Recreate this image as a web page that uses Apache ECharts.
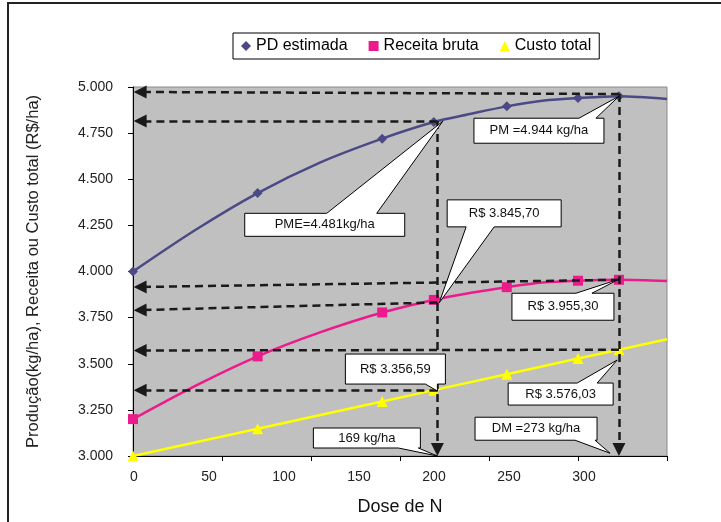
<!DOCTYPE html>
<html><head><meta charset="utf-8">
<script src="https://cdn.jsdelivr.net/npm/echarts@6/dist/echarts.min.js"></script>
<style>html,body{margin:0;padding:0;background:#fff}#c{width:721px;height:522px}</style>
</head><body><div id="c"></div>
<script>
// ---- data ----
const doses        = [0, 35, 70, 105, 140, 169, 190, 210, 230, 250, 273, 300];
const markerDoses  = [0, 70, 140, 169, 210, 250, 273];
const pdEstimada   = [4000, 4225, 4425, 4590, 4720, 4810, 4855, 4895, 4925, 4940, 4950, 4935];
const receitaBruta = [3200, 3380, 3540, 3670, 3778, 3846, 3885, 3915, 3940, 3950, 3955, 3948];
const custoDoses   = [0, 70, 140, 169, 210, 250, 273, 300];
const custoTotal   = [3000, 3148, 3295, 3357, 3443, 3528, 3576, 3633];
const xTickLabels  = [0, 50, 100, 150, 200, 250, 300];
const yTickLabels  = ['3.000','3.250','3.500','3.750','4.000','4.250','4.500','4.750','5.000'];
const seriesNames  = ['PD estimada', 'Receita bruta', 'Custo total'];
// guide lines: [fromDose, fromValue, toDose, toValue]
const guideLines = [
  [273, 4962, 4, 4973],
  [171, 4816, 4, 4816],
  [273, 3955, 4, 3916],
  [171, 3832, 4, 3791],
  [273, 3576, 4, 3572],
  [171, 3356, 4, 3356],
  [273, 4962, 273, 3035],
  [171, 4816, 171, 3035]
];
// callouts: text, tip (dose, value)
const calloutTexts = ['PM =4.944 kg/ha', 'PME=4.481kg/ha', 'R$ 3.845,70', 'R$ 3.955,30',
                      'R$ 3.356,59', 'R$ 3.576,03', '169 kg/ha', 'DM =273 kg/ha'];
const calloutTips  = [[273, 4950], [174, 4814], [172, 3830], [273, 3958],
                      [171, 3352], [272, 3520], [171, 3000], [268, 3015]];

const FONT = '"Liberation Sans", Arial, sans-serif';

function withMarkers(xs, ys, marks) {
  return xs.map((x, i) => marks.includes(x) ? [x, ys[i]] : {value: [x, ys[i]], symbol: 'none'});
}

const chart = echarts.init(document.getElementById('c'), null, {renderer: 'canvas'});

chart.setOption({
  animation: false,
  backgroundColor: '#fff',
  legend: {
    left: 233, top: 33,
    data: [
      {name: seriesNames[0], icon: 'diamond'},
      {name: seriesNames[1], icon: 'rect'},
      {name: seriesNames[2], icon: 'triangle'}
    ],
    itemWidth: 10, itemHeight: 10, itemGap: 21,
    padding: [5, 8, 5, 8],
    borderColor: '#000', borderWidth: 1,
    textStyle: {fontFamily: FONT, fontSize: 16, color: '#000'}
  },
  grid: [
    {left: 133, right: 54, top: 87, bottom: 66, show: true,
     backgroundColor: '#c0c0c0', borderColor: '#8a8a8a', borderWidth: 1},
    {left: 134, right: 137, top: 87, bottom: 66, show: false}
  ],
  xAxis: [
    {type: 'value', gridIndex: 0, min: 0, max: 300, interval: 50,
     name: 'Dose de N', nameLocation: 'middle', nameGap: 42,
     nameTextStyle: {fontFamily: FONT, fontSize: 18, color: '#111'},
     axisLine: {show: true, lineStyle: {color: '#000', width: 1}},
     axisTick: {show: true, length: 5, lineStyle: {color: '#000'}},
     axisLabel: {show: false}, splitLine: {show: false}},
    {type: 'value', gridIndex: 1, min: 0, max: 300, interval: 50,
     axisLine: {show: false}, axisTick: {show: false}, splitLine: {show: false},
     axisLabel: {fontFamily: FONT, fontSize: 14, color: '#222', margin: 14,
       formatter: v => String(xTickLabels[Math.round(v / 50)])}}
  ],
  yAxis: [
    {type: 'value', gridIndex: 0, min: 3000, max: 5000, interval: 250,
     name: 'Produção(kg/ha), Receita ou Custo total (R$/ha)', nameLocation: 'middle', nameGap: 91,
     nameTextStyle: {fontFamily: FONT, fontSize: 16.5, color: '#222'},
     axisLine: {show: true, lineStyle: {color: '#000', width: 1}},
     axisTick: {show: true, length: 5, lineStyle: {color: '#000'}},
     axisLabel: {fontFamily: FONT, fontSize: 14, color: '#222', margin: 20,
       formatter: v => yTickLabels[Math.round((v - 3000) / 250)]},
     splitLine: {show: false}},
    {type: 'value', gridIndex: 1, min: 3000, max: 5000, show: false}
  ],
  series: [
    {name: seriesNames[0], type: 'line', xAxisIndex: 0, yAxisIndex: 0, smooth: 0.3,
     data: withMarkers(doses, pdEstimada, markerDoses),
     symbol: 'diamond', symbolSize: 10, showAllSymbol: true,
     itemStyle: {color: '#4b4a86'}, lineStyle: {color: '#4b4a86', width: 2.5}, z: 3},
    {name: seriesNames[1], type: 'line', xAxisIndex: 0, yAxisIndex: 0, smooth: 0.3,
     data: withMarkers(doses, receitaBruta, markerDoses),
     symbol: 'rect', symbolSize: 10, showAllSymbol: true,
     itemStyle: {color: '#ec1b8c'}, lineStyle: {color: '#ec1b8c', width: 2.5}, z: 3},
    {name: seriesNames[2], type: 'line', xAxisIndex: 0, yAxisIndex: 0,
     data: withMarkers(custoDoses, custoTotal, markerDoses),
     symbol: 'triangle', symbolSize: 11, showAllSymbol: true,
     itemStyle: {color: '#ffff00'}, lineStyle: {color: '#ffff00', width: 2.5}, z: 3},
    {name: 'guides', type: 'line', xAxisIndex: 0, yAxisIndex: 0, data: [], silent: true,
     markLine: {
       silent: true, animation: false,
       symbol: ['none', 'triangle'], symbolSize: 13,
       label: {show: false},
       lineStyle: {color: '#1a1a1a', width: 2.5, type: [8, 5]},
       emphasis: {disabled: true},
       data: guideLines.map(g => [{coord: [g[0], g[1]]}, {coord: [g[2], g[3]]}])
     }, z: 4}
  ]
});

// callout boxes, positioned relative to their tip (pixel offsets from tip)
// [boxDx, boxDy, width, height, edge, base1, base2]
const calloutLayout = [
  [-145, 22, 130, 25, 'top', 105, 122],
  [-198, 92, 160, 23, 'top', 82, 132],
  [8, -103, 114, 27, 'bottom', 19, 47],
  [-107, 14, 102, 27, 'top', 64, 80],
  [-92, -37, 100, 30, 'bottom', 80, 92],
  [-109, 23, 105, 22, 'top', 69, 89],
  [-124, -28, 107, 20, 'bottom', 85, 105],
  [-135, -36, 122, 23, 'bottom', 100, 120]
];

const graphics = [{
  type: 'rect', z: 0, silent: true,
  shape: {x: 8, y: 3, width: 800, height: 600},
  style: {fill: 'none', stroke: '#222', lineWidth: 2}
}];
calloutTexts.forEach((t, i) => {
  const tip = chart.convertToPixel({gridIndex: 0}, calloutTips[i]);
  const [dx, dy, w, h, edge, b1, b2] = calloutLayout[i];
  const L = tip[0] + dx, T = tip[1] + dy, R = L + w, B = T + h;
  const pts = edge === 'top'
    ? [[L, T], [L + b1, T], tip, [L + b2, T], [R, T], [R, B], [L, B]]
    : [[L, T], [R, T], [R, B], [L + b2, B], tip, [L + b1, B], [L, B]];
  graphics.push({
    type: 'polygon', z: 100, silent: true,
    shape: {points: pts},
    style: {fill: '#fff', stroke: '#000', lineWidth: 1}
  });
  graphics.push({
    type: 'text', z: 101, silent: true,
    x: (L + R) / 2, y: (T + B) / 2,
    style: {text: t, fill: '#111', font: '13px ' + FONT, align: 'center', verticalAlign: 'middle'}
  });
});
chart.setOption({graphic: graphics});
</script>
</body></html>
